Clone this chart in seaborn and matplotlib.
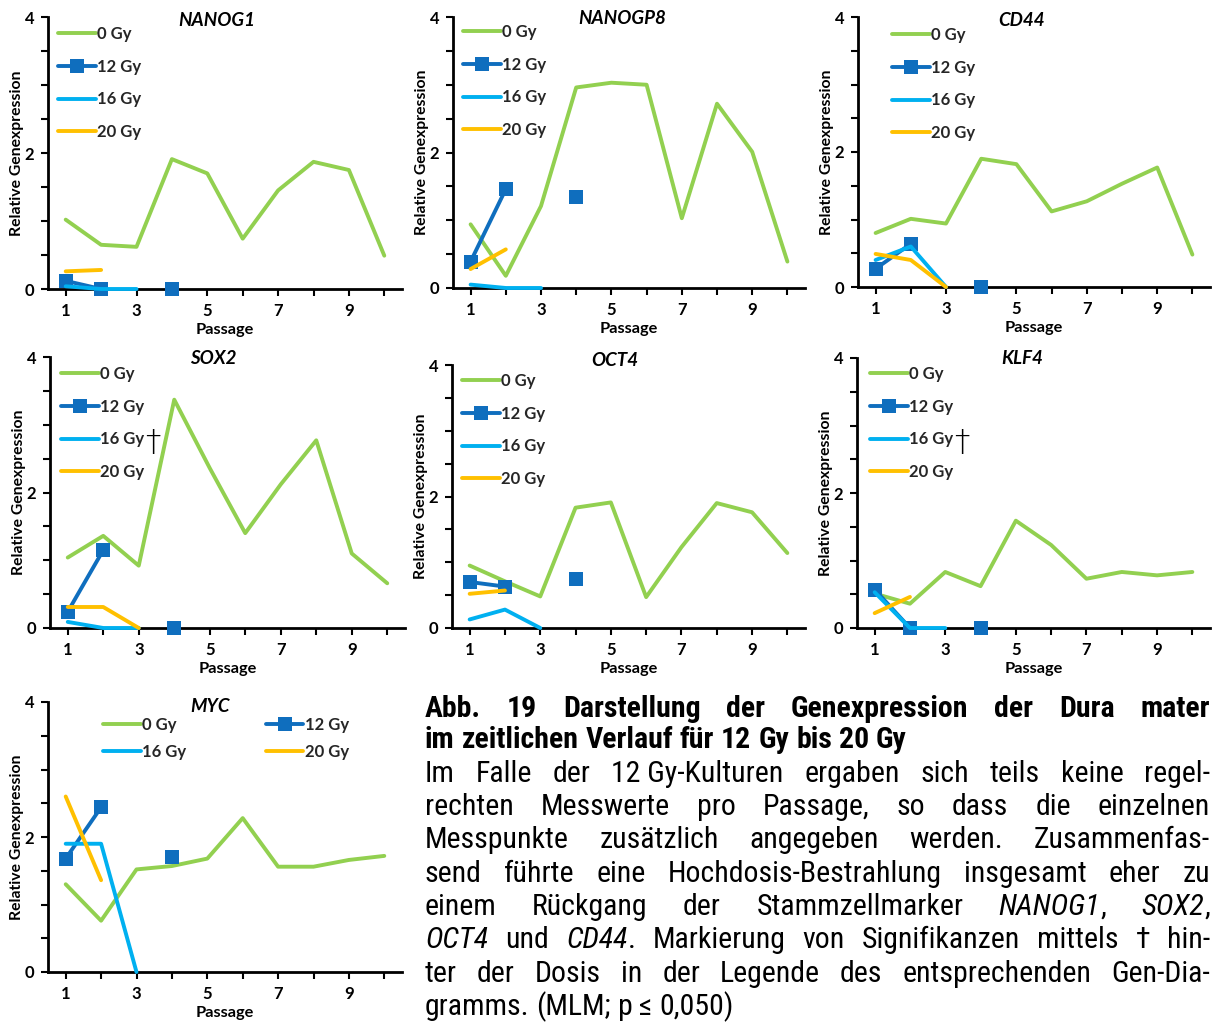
import numpy as np
import pandas as pd
import matplotlib
matplotlib.use("Agg")
import matplotlib.pyplot as plt
import seaborn as sns
from matplotlib.lines import Line2D
from matplotlib import font_manager

nan = np.nan

# ---------------- data ----------------
PASSAGES = list(range(1, 11))
DOSES = ["0 Gy", "12 Gy", "16 Gy", "20 Gy"]
X_TICK_LABELS = ["1", "", "3", "", "5", "", "7", "", "9", ""]
Y_TICKS = [0, 0.5, 1, 1.5, 2, 2.5, 3, 3.5, 4]
Y_TICK_LABELS = ["0", "", "", "", "2", "", "", "", "4"]

NANOG1_0 = [1.02, 0.65, 0.62, 1.91, 1.70, 0.74, 1.45, 1.87, 1.75, 0.49]
NANOG1_12 = [0.12, 0.00, nan, 0.00]
NANOG1_16 = [0.04, 0.00, 0.00]
NANOG1_20 = [0.26, 0.28]

NANOGP8_0 = [0.94, 0.18, 1.21, 2.96, 3.03, 3.00, 1.03, 2.72, 2.01, 0.39]
NANOGP8_12 = [0.39, 1.46, nan, 1.35]
NANOGP8_16 = [0.05, 0.00, 0.00]
NANOGP8_20 = [0.28, 0.57]

CD44_0 = [0.80, 1.01, 0.94, 1.90, 1.82, 1.12, 1.27, 1.53, 1.77, 0.48]
CD44_12 = [0.27, 0.64, nan, 0.00]
CD44_16 = [0.40, 0.60, 0.00]
CD44_20 = [0.49, 0.40, 0.00]

SOX2_0 = [1.04, 1.36, 0.92, 3.37, 2.36, 1.40, 2.12, 2.77, 1.10, 0.66]
SOX2_12 = [0.24, 1.15, nan, 0.00]
SOX2_16 = [0.09, 0.00, 0.00]
SOX2_20 = [0.31, 0.31, 0.00]

OCT4_0 = [0.95, 0.71, 0.48, 1.83, 1.91, 0.47, 1.23, 1.90, 1.76, 1.14]
OCT4_12 = [0.70, 0.63, nan, 0.74]
OCT4_16 = [0.13, 0.28, 0.00]
OCT4_20 = [0.52, 0.57]

KLF4_0 = [0.51, 0.36, 0.83, 0.62, 1.59, 1.23, 0.73, 0.83, 0.78, 0.83]
KLF4_12 = [0.57, 0.00, nan, 0.00]
KLF4_16 = [0.53, 0.00, 0.00]
KLF4_20 = [0.22, 0.46]

MYC_0 = [1.30, 0.76, 1.52, 1.57, 1.68, 2.28, 1.56, 1.56, 1.66, 1.72]
MYC_12 = [1.68, 2.44, nan, 1.70]
MYC_16 = [1.90, 1.90, 0.00]
MYC_20 = [2.60, 1.36]

CAPTION = [
    ("Abb. 19 Darstellung der Genexpression der Dura mater", "bold", True),
    ("im zeitlichen Verlauf für 12 Gy bis 20 Gy", "bold", False),
    ("Im Falle der 12~Gy-Kulturen ergaben sich teils keine regel-", "normal", True),
    ("rechten Messwerte pro Passage, so dass die einzelnen", "normal", True),
    ("Messpunkte zusätzlich angegeben werden. Zusammenfas-", "normal", True),
    ("send führte eine Hochdosis-Bestrahlung insgesamt eher zu", "normal", True),
    ("einem Rückgang der Stammzellmarker *NANOG1*, *SOX2*,", "normal", True),
    ("*OCT4* und *CD44*. Markierung von Signifikanzen mittels † hin-", "normal", True),
    ("ter der Dosis in der Legende des entsprechenden Gen-Dia-", "normal", True),
    ("gramms. (MLM; p ≤ 0,050)", "normal", False),
]

# ---------------- style ----------------
GREEN, BLUE, LBLUE, ORANGE = "#92D050", "#0F6EBE", "#00B0F0", "#FFC000"
COLORS = [GREEN, BLUE, LBLUE, ORANGE]
MARKERS = [None, "s", None, None]
LW, MS = 2.8, 10.5
TICK_FS, LEG_FS, TITLE_FS, YLAB_FS, XLAB_FS = 12, 12, 13.5, 11.3, 11.8

W, H = 1212, 1025
sns.set_theme(style="white")
plt.rcParams["font.family"] = ["Lato", "DejaVu Sans"]

fig = plt.figure(figsize=(W / 100, H / 100), dpi=100)
fig.patch.set_facecolor("white")


def fx(x):
    return x / W


def fy(y):
    return 1 - y / H


# gene, series, axes box (l, t, r, b px), title centre, legend anchor, dagger, ncol
PANELS = [
    ("NANOG1", [NANOG1_0, NANOG1_12, NANOG1_16, NANOG1_20], (48, 17, 402, 289), (217, 20), (58, 26), False, 1),
    ("NANOGP8", [NANOGP8_0, NANOGP8_12, NANOGP8_16, NANOGP8_20], (453, 17, 805, 288), (622, 19), (463, 24), False, 1),
    ("CD44", [CD44_0, CD44_12, CD44_16, CD44_20], (858, 17, 1210, 287), (1022, 21), (892, 27), False, 1),
    ("SOX2", [SOX2_0, SOX2_12, SOX2_16, SOX2_20], (50, 357, 405, 628), (213, 359), (61, 366), True, 1),
    ("OCT4", [OCT4_0, OCT4_12, OCT4_16, OCT4_20], (452, 365, 805, 628), (615, 361), (462, 373), False, 1),
    ("KLF4", [KLF4_0, KLF4_12, KLF4_16, KLF4_20], (857, 358, 1210, 628), (1022, 359), (870, 366), True, 1),
    ("MYC", [MYC_0, MYC_12, MYC_16, MYC_20], (48, 702, 402, 972), (210, 707), (103, 717), False, 2),
]


def draw_series(ax, vals, color, marker, z):
    y = np.asarray(vals, float)
    x = np.arange(1, len(y) + 1)
    seg = np.cumsum(np.isnan(y))
    ok = ~np.isnan(y)
    df = pd.DataFrame({"Passage": x[ok], "Expr": y[ok], "seg": seg[ok]})
    kw = dict(color=color, lw=LW, clip_on=False, zorder=z)
    if marker:
        kw.update(marker=marker, ms=MS, mec=color, mfc=color, mew=0)
    sns.lineplot(data=df, x="Passage", y="Expr", units="seg", estimator=None,
                 ax=ax, legend=False, sort=False, **kw)


def style_axes(ax):
    ax.set_facecolor("white")
    ax.grid(False)
    ax.set_xlim(0.5, 10.5)
    ax.set_ylim(0, 4)
    ax.set_xticks(PASSAGES)
    ax.set_xticklabels(X_TICK_LABELS)
    ax.set_yticks(Y_TICKS)
    ax.set_yticklabels(Y_TICK_LABELS)
    for s in ["top", "right"]:
        ax.spines[s].set_visible(False)
    for s in ["left", "bottom"]:
        ax.spines[s].set_linewidth(2)
        ax.spines[s].set_color("black")
        ax.spines[s].set_zorder(2.5)
    ax.tick_params(axis="both", direction="out", length=5, width=1.5, color="black",
                   labelsize=TICK_FS, bottom=True, left=True, labelcolor="black")
    ax.tick_params(axis="y", pad=5)
    ax.tick_params(axis="x", pad=5)
    for lab in ax.get_xticklabels() + ax.get_yticklabels():
        lab.set_fontweight("bold")
    ax.set_xlabel("Passage", fontsize=XLAB_FS, fontweight="bold", labelpad=3, color="black")
    ax.set_ylabel("Relative Genexpression", fontsize=YLAB_FS, fontweight="bold", labelpad=0, color="black")


legs = []
for gene, series, (l, t, r, b), (tx, ty), (lx, ly), dagger, ncol in PANELS:
    ax = fig.add_axes([fx(l), fy(b), (r - l) / W, (b - t) / H])
    for i, (vals, c, m) in enumerate(zip(series, COLORS, MARKERS)):
        draw_series(ax, vals, c, m, 3 + i)
    style_axes(ax)
    fig.text(fx(tx), fy(ty), gene, ha="center", va="center", fontsize=TITLE_FS,
             fontweight="bold", fontstyle="italic", color="black")
    handles = [Line2D([0], [0], color=c, lw=LW, marker=m if m else "None", ms=MS,
                      mec=c, mfc=c, mew=0) for c, m in zip(COLORS, MARKERS)]
    labels = list(DOSES)
    if ncol == 2:
        order = [0, 2, 1, 3]
        handles = [handles[i] for i in order]
        labels = [labels[i] for i in order]
        spacing = 0.65
    else:
        spacing = 1.0
    leg = ax.legend(handles, labels, loc="upper left", bbox_to_anchor=(fx(lx), fy(ly)),
                    bbox_transform=fig.transFigure, frameon=False, borderpad=0,
                    borderaxespad=0, handlelength=2.25, handletextpad=0.08,
                    labelspacing=spacing, ncol=ncol, columnspacing=4.8, numpoints=1,
                    prop={"weight": "bold", "size": LEG_FS})
    legs.append((leg, dagger))

fig.canvas.draw()
renderer = fig.canvas.get_renderer()
inv = fig.transFigure.inverted()
for leg, dagger in legs:
    if dagger:
        bb = leg.get_texts()[2].get_window_extent(renderer)
        px, py = inv.transform((bb.x1 + 1, (bb.y0 + bb.y1) / 2 - 3))
        fig.text(px, py, "†", ha="left", va="center", fontsize=22, family="DejaVu Sans",
                 fontweight="light", color="black")

# ---------------- caption ----------------
CAP_FONT, CAP_STRETCH = "Liberation Sans", "normal"
_entries = font_manager.fontManager.ttflist
_names = {f.name for f in _entries}
_found = False
for cand in ["Liberation Sans Narrow", "Arial Narrow", "Roboto Condensed",
             "Open Sans Condensed", "Noto Sans Condensed", "DejaVu Sans Condensed"]:
    if cand in _names:
        CAP_FONT, _found = cand, True
        break
if not _found:
    for f in _entries:
        if ("condensed" in str(f.stretch) or "narrow" in f.name.lower()
                or "condensed" in f.name.lower()) and "mono" not in f.name.lower() \
                and "serif" not in f.name.lower():
            CAP_FONT, CAP_STRETCH = f.name, f.stretch
            break

CAP_LEFT, CAP_RIGHT = 425, 1210
BASELINES = [717, 748, 782, 815, 848, 882, 915, 948, 982, 1015]


def parse(markup):
    words = []
    for tok in markup.split(" "):
        segs = []
        for i, p in enumerate(tok.split("*")):
            if p:
                segs.append((p.replace("~", " "), "italic" if i % 2 else "normal"))
        words.append(segs)
    return words


def cap_text(x, y, s, weight, style, size):
    return fig.text(x, y, s, fontsize=size, fontweight=weight, fontstyle=style,
                    family=CAP_FONT, fontstretch=CAP_STRETCH, color="black",
                    ha="left", va="baseline")


def measure(text, weight, style, size):
    t = cap_text(0, 0, text, weight, style, size)
    w = t.get_window_extent(renderer).width
    t.remove()
    return w


def line_layout(markup, weight, size):
    words = parse(markup)
    widths = [[measure(s, weight, st, size) for s, st in w] for w in words]
    space = measure("a a", weight, "normal", size) - measure("aa", weight, "normal", size)
    return words, widths, space


base = 21.5
avail = CAP_RIGHT - CAP_LEFT
worst = 0
for markup, weight, just in CAPTION:
    words, widths, space = line_layout(markup, weight, base)
    nat = sum(sum(w) for w in widths) + 0.7 * space * (len(words) - 1)
    worst = max(worst, nat / avail)
size = base if worst <= 0.995 else base * 0.995 / worst

for (markup, weight, just), yb in zip(CAPTION, BASELINES):
    words, widths, space = line_layout(markup, weight, size)
    total = sum(sum(w) for w in widths)
    gap = (avail - total) / (len(words) - 1) if just and len(words) > 1 else space
    x = CAP_LEFT
    for segs, ws in zip(words, widths):
        for (s, st), w in zip(segs, ws):
            cap_text(fx(x), fy(yb), s, weight, st, size)
            x += w
        x += gap

fig.savefig("out.png", dpi=100, facecolor="white")
